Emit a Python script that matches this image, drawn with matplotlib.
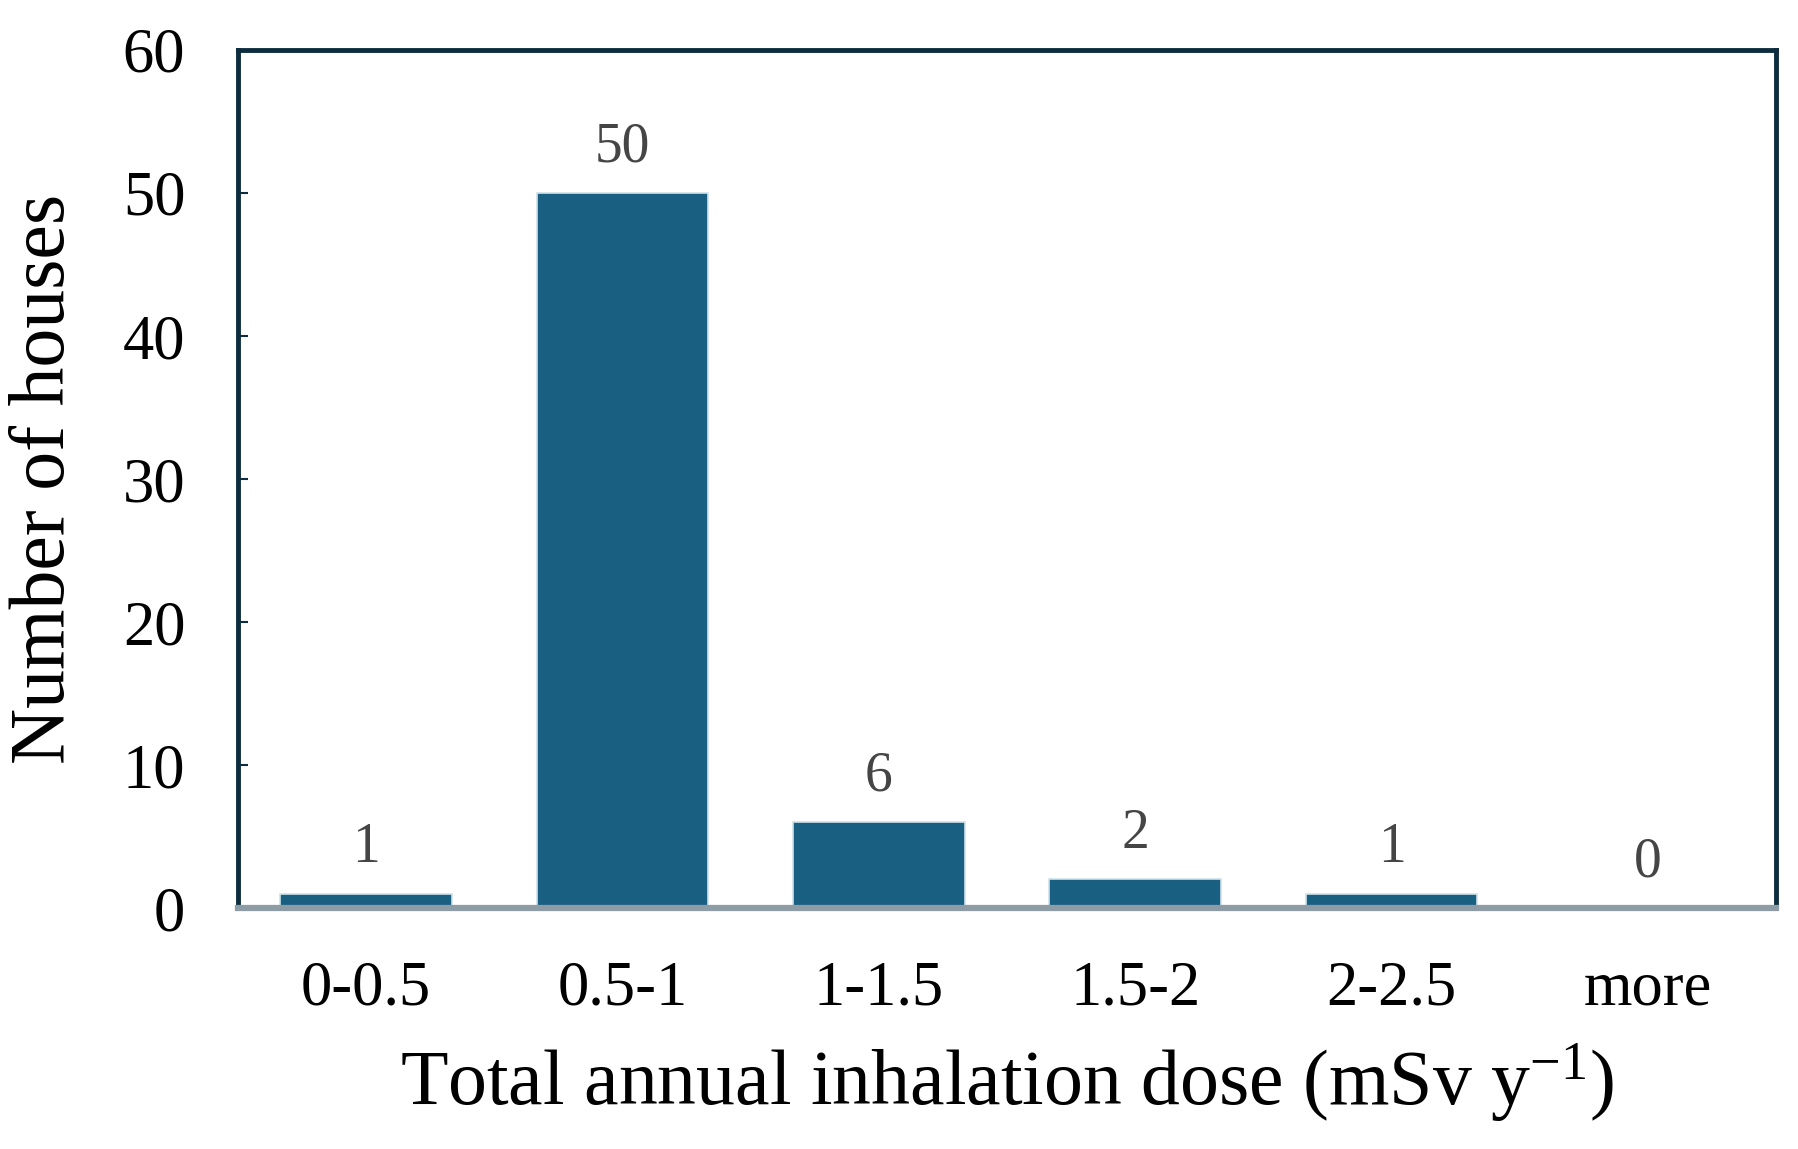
import matplotlib.pyplot as plt
import matplotlib as mpl

categories = ["0-0.5", "0.5-1", "1-1.5", "1.5-2", "2-2.5", "more"]
houses = [1, 50, 6, 2, 1, 0]
yticks = [0, 10, 20, 30, 40, 50, 60]

mpl.rcParams['font.family'] = 'Liberation Serif'
mpl.rcParams['mathtext.fontset'] = 'custom'
mpl.rcParams['mathtext.rm'] = 'Liberation Serif'
mpl.rcParams['mathtext.it'] = 'Liberation Serif:italic'

fig = plt.figure(figsize=(17.98, 11.49), dpi=100)
ax = fig.add_axes([0.1324, 0.2097, 0.9878 - 0.1324, 0.9565 - 0.2097])

x = range(len(categories))
ax.bar(x, houses, width=0.67, color='#195f82', edgecolor='#cfe2ea',
       linewidth=1.2, zorder=2)

for i in x:
    ax.annotate(str(houses[i]), (i, houses[i]), xytext=(0, 14),
                textcoords='offset points', ha='center', va='bottom',
                fontsize=40, color='#454545')

ax.set_xlim(-0.5, len(categories) - 0.5)
ax.set_ylim(0, 60)
ax.set_yticks(yticks)
ax.set_xticks(list(x))
ax.set_xticklabels(categories)

ax.tick_params(axis='y', direction='in', length=7, width=1.5, color='#0d2c3e',
               labelsize=45, pad=38)
ax.tick_params(axis='x', length=0, labelsize=45, pad=38)

for s in ['left', 'top', 'right']:
    ax.spines[s].set_color('#0d2c3e')
    ax.spines[s].set_linewidth(3.5)
ax.spines['bottom'].set_color('#8d9ca5')
ax.spines['bottom'].set_linewidth(4.5)
ax.spines['bottom'].set_zorder(3)

ax.set_xlabel("Total annual inhalation dose (mSv y$^{-1}$)", fontsize=56, labelpad=16)
ax.set_ylabel("Number of houses", fontsize=56, labelpad=30)

fig.savefig("out.png", dpi=100)
